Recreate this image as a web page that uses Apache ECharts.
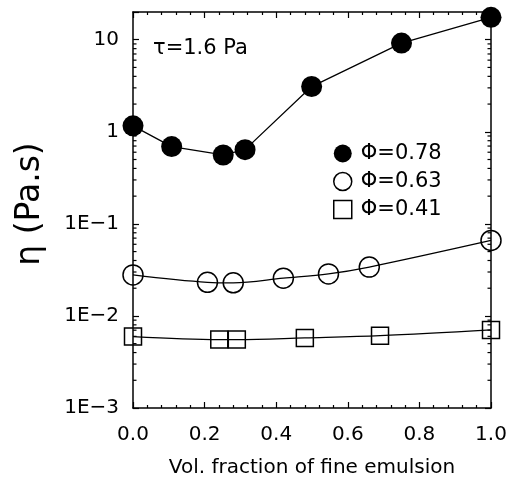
<!DOCTYPE html>
<html>
<head>
<meta charset="utf-8">
<script src="https://cdn.jsdelivr.net/npm/echarts@6/dist/echarts.min.js"></script>
<style>
html,body{margin:0;padding:0;background:#fff;}
#chart{width:514px;height:479px;}
</style>
</head>
<body>
<div id="chart"></div>
<script>
// ---- data ----
const x78 = [0.0, 0.108, 0.252, 0.313, 0.499, 0.75, 1.0];
const y78 = [1.16, 0.69, 0.56, 0.64, 3.1, 9.2, 17.5];
const x63 = [0.0, 0.208, 0.28, 0.42, 0.546, 0.66, 1.0];
const y63 = [0.0279, 0.0232, 0.0229, 0.0257, 0.0286, 0.0339, 0.066];
const x41 = [0.0, 0.241, 0.29, 0.48, 0.69, 1.0];
const y41 = [0.00596, 0.00553, 0.00553, 0.00577, 0.0061, 0.00705];
const seriesNames = ['\u03a6=0.78', '\u03a6=0.63', '\u03a6=0.41'];
const yTickValues = [0.001, 0.01, 0.1, 1, 10];
const yTickLabels = ['1E\u22123', '1E\u22122', '1E\u22121', '1', '10'];
const xTickLabels = ['0.0', '0.2', '0.4', '0.6', '0.8', '1.0'];
const minorMultipliers = [2, 3, 4, 5, 6, 7, 8, 9];
const yMin = 0.001, yMax = 20;

const minorY = [];
yTickValues.forEach(d => minorMultipliers.forEach(m => { const v = d * m; if (v < yMax) minorY.push(+v.toPrecision(3)); }));

const zip = (xs, ys) => xs.map((x, i) => [x, ys[i]]);
const FONT = 'DejaVu Sans';

const chart = echarts.init(document.getElementById('chart'), null, {renderer: 'canvas'});

const xBase = {
  type: 'value', min: 0, max: 1, interval: 0.2,
  axisLine: {show: true, onZero: false, lineStyle: {color: '#000', width: 1.5}},
  axisTick: {show: true, inside: true, length: 6, lineStyle: {color: '#000', width: 1.2}},
  minorTick: {show: true, splitNumber: 5, length: 3, lineStyle: {color: '#000', width: 1.2}},
  splitLine: {show: false}
};
const yBase = {
  type: 'log', logBase: 10, min: yMin, max: yMax,
  axisLine: {show: true, onZero: false, lineStyle: {color: '#000', width: 1.5}},
  axisTick: {show: true, inside: true, length: 6, lineStyle: {color: '#000', width: 1.2}},
  splitLine: {show: false}
};

chart.setOption({
  animation: false,
  backgroundColor: '#fff',
  grid: {left: 133, right: 23, top: 12, bottom: 71, containLabel: false, outerBoundsMode: 'none'},
  xAxis: [
    Object.assign({}, xBase, {
      position: 'bottom',
      name: 'Vol. fraction of fine emulsion', nameLocation: 'middle', nameGap: 50,
      nameTextStyle: {fontFamily: FONT, fontSize: 20, color: '#000'},
      axisLabel: {
        margin: 17, fontFamily: FONT, fontSize: 20, color: '#000',
        formatter: v => xTickLabels[Math.round(v / 0.2)] || ''
      }
    }),
    Object.assign({}, xBase, {position: 'top', axisLabel: {show: false}})
  ],
  yAxis: [
    Object.assign({}, yBase, {
      position: 'left',
      name: '\u03b7 (Pa.s)', nameLocation: 'middle', nameGap: 86,
      nameTextStyle: {fontFamily: FONT, fontSize: 33, color: '#000', padding: [0, 0, 0, 12]},
      axisLabel: {
        margin: 14, fontFamily: FONT, fontSize: 20, color: '#000',
        formatter: v => {
          const i = yTickValues.findIndex(t => Math.abs(Math.log10(t) - Math.log10(v)) < 1e-6);
          return i >= 0 ? yTickLabels[i] : '';
        }
      }
    }),
    Object.assign({}, yBase, {position: 'right', axisLabel: {show: false}})
  ],
  legend: {
    orient: 'vertical', left: 328, top: 138, itemGap: 7,
    itemWidth: 18, itemHeight: 18,
    textStyle: {fontFamily: FONT, fontSize: 21, color: '#000', padding: [0, 0, 0, 4]},
    selectedMode: false,
    data: [
      {name: seriesNames[0], icon: 'circle', itemStyle: {color: '#000', borderWidth: 0}},
      {name: seriesNames[1], icon: 'circle', itemStyle: {color: '#fff', borderColor: '#000', borderWidth: 1.5}},
      {name: seriesNames[2], icon: 'rect', itemStyle: {color: '#fff', borderColor: '#000', borderWidth: 1.5}}
    ]
  },
  graphic: [{
    type: 'text', left: 153, top: 38,
    style: {text: '\u03c4=1.6 Pa', font: '21px "DejaVu Sans"', fill: '#000'}
  }],
  series: [
    {
      name: seriesNames[0], type: 'line', data: zip(x78, y78),
      symbol: 'circle', symbolSize: 21,
      itemStyle: {color: '#000'},
      lineStyle: {color: '#000', width: 1.3}, z: 3
    },
    {
      name: seriesNames[1], type: 'line', data: zip(x63, y63), smooth: 0.35,
      symbol: 'circle', symbolSize: 20,
      itemStyle: {color: 'rgba(255,255,255,0)', borderColor: '#000', borderWidth: 1.5},
      lineStyle: {color: '#000', width: 1.3}, z: 3
    },
    {
      name: seriesNames[2], type: 'line', data: zip(x41, y41), smooth: 0.35,
      symbol: 'rect', symbolSize: 17,
      itemStyle: {color: 'rgba(255,255,255,0)', borderColor: '#000', borderWidth: 1.5},
      lineStyle: {color: '#000', width: 1.3}, z: 3
    },
    {
      type: 'custom', silent: true, clip: false, z: 4,
      data: minorY.map(v => [0, v]),
      encode: {x: 0, y: 1},
      renderItem: (params, api) => {
        const v = api.value(1);
        const pl = api.coord([0, v]);
        const pr = api.coord([1, v]);
        const st = {stroke: '#000', lineWidth: 1.2};
        return {
          type: 'group', children: [
            {type: 'line', shape: {x1: pl[0], y1: pl[1], x2: pl[0] + 3.5, y2: pl[1]}, style: st},
            {type: 'line', shape: {x1: pr[0], y1: pr[1], x2: pr[0] - 3.5, y2: pr[1]}, style: st}
          ]
        };
      }
    }
  ]
});
</script>
</body>
</html>
